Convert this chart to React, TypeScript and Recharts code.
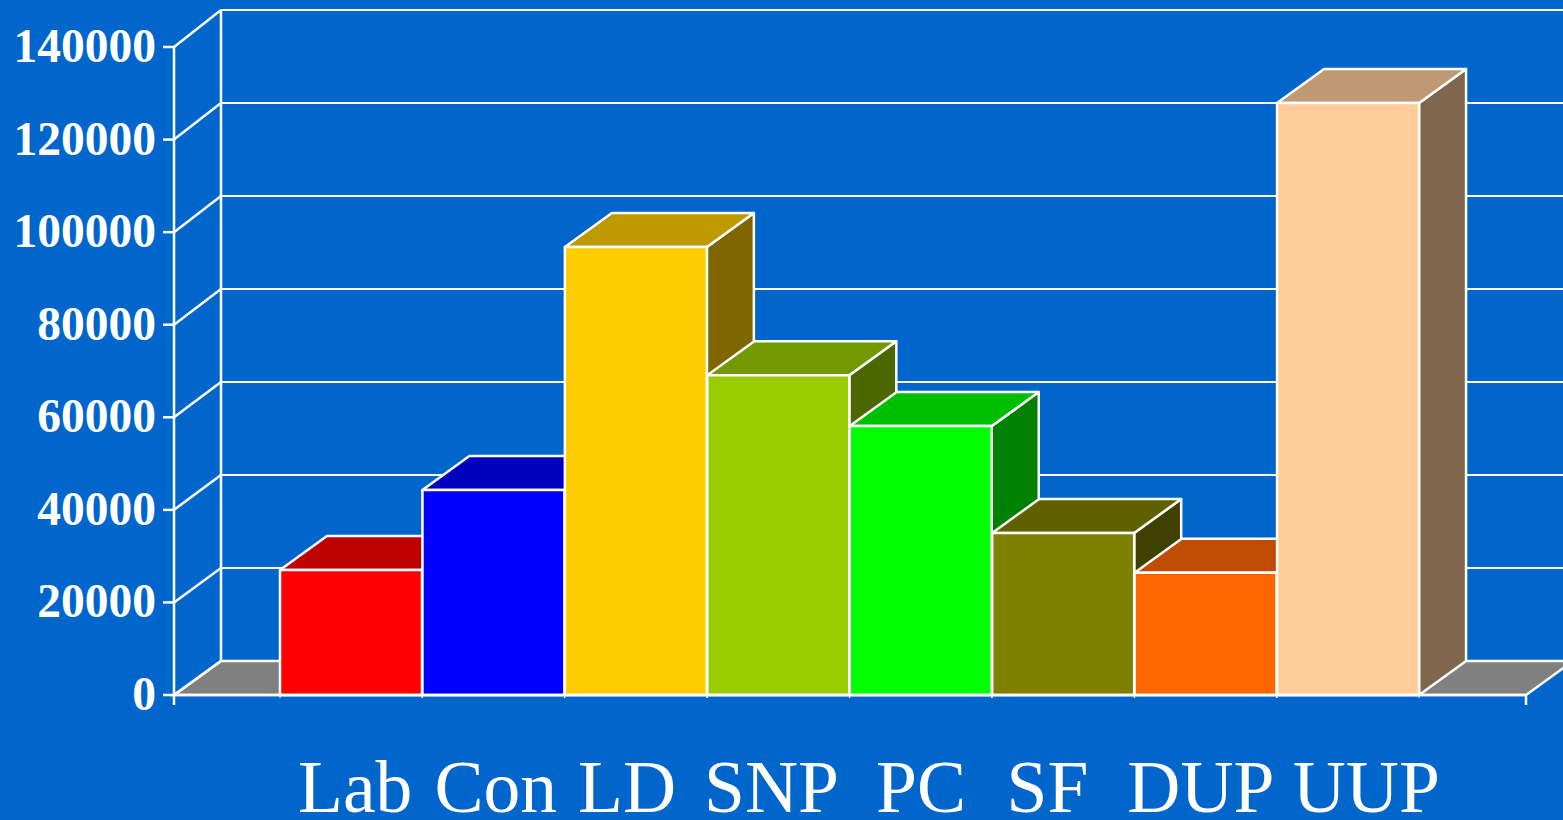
import React from 'react';
import { BarChart, Bar, XAxis, YAxis, CartesianGrid } from 'recharts';

const categories = ['Lab', 'Con', 'LD', 'SNP', 'PC', 'SF', 'DUP', 'UUP'];
const values = [27000, 44300, 96800, 69100, 58100, 35000, 26400, 127900];
const yTicks = [0, 20000, 40000, 60000, 80000, 100000, 120000, 140000];

const frontColors = ['#FF0000', '#0000FF', '#FFCC00', '#99CC00', '#00FF00', '#808000', '#FF6600', '#FFCC99'];
const topColors = ['#BF0000', '#0000BF', '#BF9900', '#739900', '#00BF00', '#606000', '#BF4C00', '#BF9973'];
const sideColors = ['#800000', '#000080', '#806600', '#4C6600', '#008000', '#404000', '#803300', '#80664D'];

// the category labels in the original aren't centred on their bars
const labelNudge = [4, 2, -9, -7, 0, -16, -5, 18];

const BG = '#0066CC';
const LINE = '#FFFFFF';
const FLOOR = '#808080';
const DEPTH_X = 47;
const DEPTH_Y = 34;
const PLOT_TOP = 47;
const PLOT_BOTTOM = 695;
const CHART_H = 820;
const SERIF = '"Liberation Serif", "Times New Roman", serif';

const data = categories.map((name, i) => ({ name, value: values[i] }));

const Bar3D = (props: any) => {
  const { x, y, width, height, index } = props;
  const right = x + width;
  const bottom = y + height;
  const common = { stroke: LINE, strokeWidth: 2.5, strokeLinejoin: 'round' as const };
  return (
    <g>
      <polygon
        points={`${right},${y} ${right + DEPTH_X},${y - DEPTH_Y} ${right + DEPTH_X},${bottom - DEPTH_Y} ${right},${bottom}`}
        fill={sideColors[index]}
        {...common}
      />
      <polygon
        points={`${x},${y} ${x + DEPTH_X},${y - DEPTH_Y} ${right + DEPTH_X},${y - DEPTH_Y} ${right},${y}`}
        fill={topColors[index]}
        {...common}
      />
      <rect x={x} y={y} width={width} height={height} fill={frontColors[index]} {...common} />
      <line x1={x} y1={bottom} x2={x} y2={bottom + 3} stroke={LINE} strokeWidth={1} />
      <line x1={right} y1={bottom} x2={right} y2={bottom + 3} stroke={LINE} strokeWidth={1} />
    </g>
  );
};

// the back wall sits a touch further up at the top of the chart than at the floor
const wallOffset = (y: number) => DEPTH_Y + ((PLOT_BOTTOM - y) * 3) / (PLOT_BOTTOM - PLOT_TOP);

// each horizontal grid line becomes the wall line plus the diagonal back to the front axis
const GridLine3D = (props: any) => {
  const { x1, x2, y1 } = props;
  const backY = y1 - wallOffset(y1);
  const backX = x1 + DEPTH_X;
  const isFloor = Math.abs(y1 - PLOT_BOTTOM) < 1;
  return (
    <g>
      {isFloor && (
        <polygon
          points={`${x1},${y1} ${backX},${backY} ${x2 + DEPTH_X},${backY} ${x2},${y1}`}
          fill={FLOOR}
          stroke={LINE}
          strokeWidth={2.5}
        />
      )}
      {isFloor && (
        <line x1={backX} y1={backY} x2={backX} y2={PLOT_TOP - wallOffset(PLOT_TOP)} stroke={LINE} strokeWidth={2.5} />
      )}
      {isFloor && <line x1={x1} y1={y1} x2={x1} y2={y1 + 10} stroke={LINE} strokeWidth={2.5} />}
      {isFloor && <line x1={x2} y1={y1} x2={x2} y2={y1 + 10} stroke={LINE} strokeWidth={2.5} />}
      <line x1={x1} y1={y1} x2={backX} y2={backY} stroke={LINE} strokeWidth={2.5} />
      <line x1={backX} y1={backY} x2={x2 + DEPTH_X} y2={backY} stroke={LINE} strokeWidth={2.2} />
    </g>
  );
};

const CategoryTick = (props: any) => {
  const { x, payload, index } = props;
  return (
    <text x={x + labelNudge[index]} y={812} textAnchor="middle" fill={LINE} fontFamily={SERIF} fontSize={73.5}>
      {payload.value}
    </text>
  );
};

const ValueTick = (props: any) => {
  const { x, y, payload } = props;
  return (
    <text x={x} y={y + 15} textAnchor="end" fill={LINE} fontFamily={SERIF} fontSize={47.5} fontWeight={700}>
      {payload.value}
    </text>
  );
};

export default function App() {
  return (
    <div style={{ position: 'absolute', left: 0, top: 0, width: 1563, height: CHART_H, background: BG, overflow: 'hidden' }}>
      <BarChart
        width={1563}
        height={CHART_H}
        data={data}
        barCategoryGap={0}
        margin={{ top: PLOT_TOP, right: 37, bottom: 0, left: 0 }}
      >
        <CartesianGrid
          vertical={false}
          horizontalValues={yTicks}
          horizontal={(props: any) => <GridLine3D key={props.key} {...props} />}
        />
        <XAxis
          dataKey="name"
          height={CHART_H - PLOT_BOTTOM}
          interval={0}
          padding={{ left: 106, right: 106.5 }}
          axisLine={{ stroke: LINE, strokeWidth: 2.5 }}
          tickLine={false}
          tick={<CategoryTick />}
        />
        <YAxis
          width={174}
          domain={[0, 140000]}
          ticks={yTicks}
          interval={0}
          tickSize={11}
          tickMargin={7}
          axisLine={{ stroke: LINE, strokeWidth: 2.5 }}
          tickLine={{ stroke: LINE, strokeWidth: 2.5 }}
          tick={<ValueTick />}
        />
        <Bar dataKey="value" isAnimationActive={false} shape={<Bar3D />} />
      </BarChart>
    </div>
  );
}
